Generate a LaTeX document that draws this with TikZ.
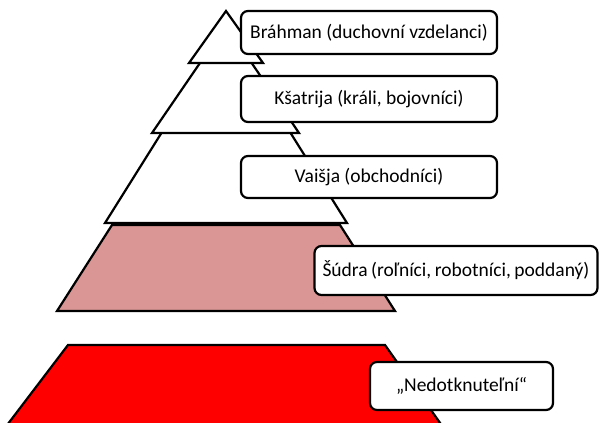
\documentclass[tikz,border=0pt]{standalone}
\usepackage{fontspec}
\setmainfont{Carlito}
\definecolor{sudra}{HTML}{D99694}
\definecolor{untouch}{HTML}{FF0000}
\begin{document}
\begin{tikzpicture}[x=1pt,y=-1pt,
  layer/.style={draw=black,line width=2.2pt,line join=miter},
  casteBox/.style={draw=black,line width=2.2pt,fill=white,rounded corners=7pt,
    inner sep=0pt,font=\fontsize{19.5}{22}\selectfont,align=center}]
\useasboundingbox (0,0) rectangle (600,423);
\begin{scope}
\clip (0,0) rectangle (600,423);
\fill[white] (0,0) rectangle (600,423);
\draw[layer,fill=untouch] (68,345) -- (385,345) -- (450,437) -- (-2,437) -- cycle;
\draw[layer,fill=sudra] (112,225) -- (340,225) -- (395,311) -- (57,311) -- cycle;
\draw[layer,fill=white] (226,30) -- (347,223) -- (105,223) -- cycle;
\draw[layer,fill=white] (226,25) -- (299,133) -- (152,133) -- cycle;
\draw[layer,fill=white] (226,11) -- (263,63) -- (189,63) -- cycle;
\end{scope}
\node[casteBox,minimum width=256pt,minimum height=43pt] (brahman) at (369,32.5) {Bráhman (duchovní vzdelanci)};
\node[casteBox,minimum width=256pt,minimum height=46pt] (ksatrija) at (369,99) {Kšatrija (králi, bojovníci)};
\node[casteBox,minimum width=256pt,minimum height=42pt] (vaisja) at (369,177) {Vaišja (obchodníci)};
\node[casteBox,minimum width=283pt,minimum height=49pt,font={\fontsize{19.5}{22}\selectfont\spaceskip=0.18em plus 0.05em minus 0.05em\relax}] (sudra) at (456,270.5) {Šúdra (roľníci, robotníci, poddaný)};
\node[casteBox,minimum width=183pt,minimum height=48pt] (nedot) at (461.5,386) {„Nedotknuteľní“};
\end{tikzpicture}
\end{document}
